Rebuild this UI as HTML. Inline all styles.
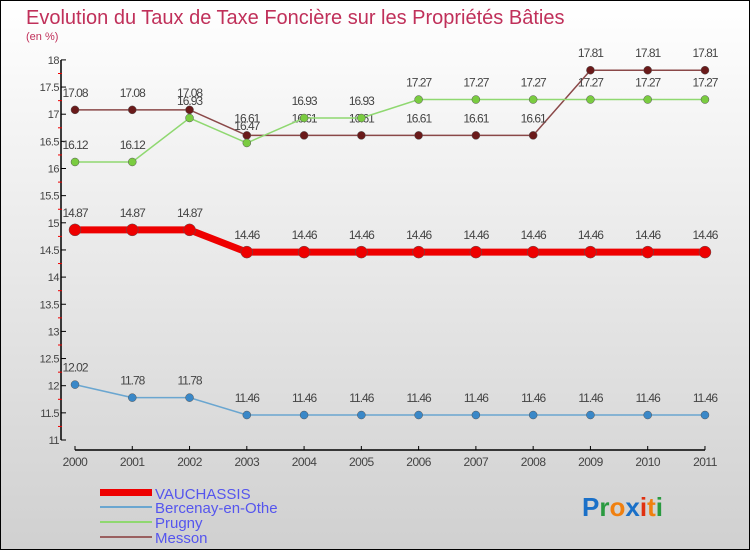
<!DOCTYPE html>
<html><head><meta charset="utf-8"><style>
body{margin:0;width:750px;height:550px;overflow:hidden}
svg{display:block;font-family:"Liberation Sans",sans-serif}
</style></head><body>
<svg width="750" height="550">
<defs><linearGradient id="bg" x1="0" y1="0" x2="0" y2="1"><stop offset="0" stop-color="#ffffff"/><stop offset="1" stop-color="#d0d0d0"/></linearGradient></defs>
<rect x="0.5" y="0.5" width="749" height="549" fill="url(#bg)" stroke="#000"/>
<text x="26" y="24" font-size="20" fill="#c0305a">Evolution du Taux de Taxe Foncière sur les Propriétés Bâties</text>
<text x="26" y="40" font-size="11" fill="#c0305a">(en %)</text>
<g id="axes"></g><g id="series"></g>
<g>
<rect x="100" y="489" width="52" height="7" fill="#e00"/>
<text x="155" y="499" font-size="15" fill="#5555ee">VAUCHASSIS</text>
<rect x="100" y="506" width="52" height="2" fill="#6aa6d0"/>
<text x="155" y="513" font-size="15" fill="#5555ee">Bercenay-en-Othe</text>
<rect x="100" y="521" width="52" height="2" fill="#8fd870"/>
<text x="155" y="528" font-size="15" fill="#5555ee">Prugny</text>
<rect x="100" y="536" width="52" height="2" fill="#9a6060"/>
<text x="155" y="543" font-size="15" fill="#5555ee">Messon</text>
</g>
<text x="582" y="516" font-size="26" font-weight="bold"><tspan fill="#1a70c8">P</tspan><tspan fill="#2a9a40">r</tspan><tspan fill="#f08010">o</tspan><tspan fill="#1a70c8">x</tspan><tspan fill="#e03010">i</tspan><tspan fill="#f08010">t</tspan><tspan fill="#2a9a40">i</tspan></text>
</svg>
<script>
const years=["2000","2001","2002","2003","2004","2005","2006","2007","2008","2009","2010","2011"];
const yTicks=[11,11.5,12,12.5,13,13.5,14,14.5,15,15.5,16,16.5,17,17.5,18];
const vauchassis=[14.87,14.87,14.87,14.46,14.46,14.46,14.46,14.46,14.46,14.46,14.46,14.46];
const bercenay=[12.02,11.78,11.78,11.46,11.46,11.46,11.46,11.46,11.46,11.46,11.46,11.46];
const prugny=[16.12,16.12,16.93,16.47,16.93,16.93,17.27,17.27,17.27,17.27,17.27,17.27];
const messon=[17.08,17.08,17.08,16.61,16.61,16.61,16.61,16.61,16.61,17.81,17.81,17.81];
const NS="http://www.w3.org/2000/svg";
const X=i=>75+i*57.27, Y=v=>440-(v-11)*54.3;
function mk(t,a,p){const e=document.createElementNS(NS,t);for(const k in a)e.setAttribute(k,a[k]);p.appendChild(e);return e;}
const ax=document.getElementById('axes');
let l=mk('line',{x1:61,y1:60,x2:61,y2:440,stroke:'#000','stroke-width':1.5},ax);


l=mk('line',{x1:75,y1:450,x2:705,y2:450,stroke:'#000','stroke-width':1.5},ax);


yTicks.forEach((v,k)=>{const y=Y(v);mk('line',{x1:61,y1:y,x2:66,y2:y,stroke:'#000'},ax);
 if(k>0) mk('line',{x1:58,y1:y+13.6,x2:62,y2:y+13.6,stroke:'#e00'},ax);
 const t=mk('text',{x:59,y:y+4,'font-size':11,fill:'#444','text-anchor':'end','letter-spacing':'-0.5'},ax);t.textContent=v;
 
 });
years.forEach((yr,i)=>{mk('line',{x1:X(i),y1:446,x2:X(i),y2:450,stroke:'#000'},ax);
 const t=mk('text',{x:X(i),y:466,'font-size':12,fill:'#444','text-anchor':'middle','letter-spacing':'-0.5'},ax);t.textContent=yr;
 
 });
const sg=document.getElementById('series');
function series(name,data,color,dot,w,r){
 const g=mk('g',{},sg);
 
 
 mk('polyline',{points:data.map((v,i)=>X(i)+','+Y(v)).join(' '),fill:'none',stroke:color,'stroke-width':w},g);
 data.forEach((v,i)=>{const c=mk('circle',{cx:X(i),cy:Y(v),r:r,fill:dot,stroke:'#555','stroke-width':0.5},g);
  
  
  const t=mk('text',{x:X(i),y:Y(v)-13,'font-size':12,fill:'#444','text-anchor':'middle','letter-spacing':'-1'},g);t.textContent=v;
  
  });
}
series('messon',messon,'#8a4848','#6a1a1a',1.5,4);
series('prugny',prugny,'#8fd870','#7acc40',1.5,4);
series('bercenay',bercenay,'#6aa6d0','#3a88c8',1.5,4);
series('vauchassis',vauchassis,'#ee0000','#ee0000',7,6);
</script>
</body></html>
